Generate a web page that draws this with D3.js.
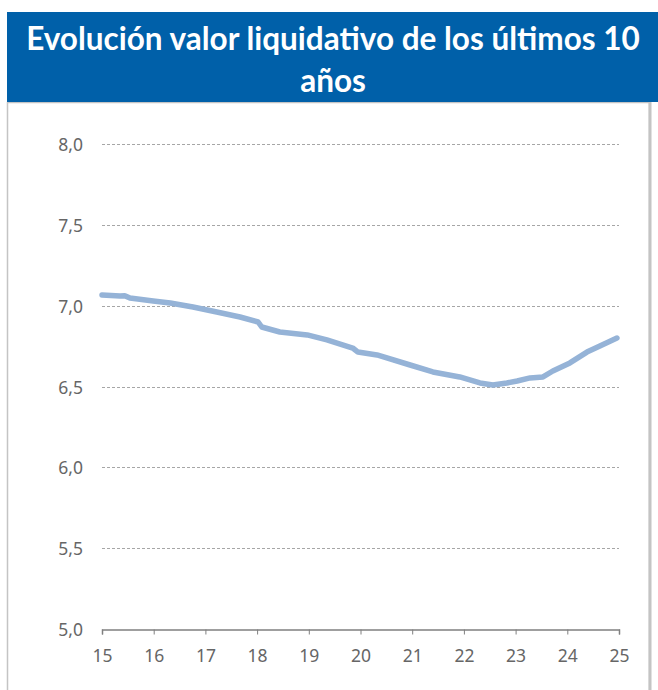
<!DOCTYPE html>
<html lang="es">
<head>
<meta charset="UTF-8">
<title>Evolución valor liquidativo</title>
<script src="https://d3js.org/d3.v7.min.js"></script>
<style>
  body { margin: 0; background: #fff; }
  svg { display: block; }
</style>
</head>
<body>
<svg id="chart" width="658" height="690"></svg>
<script>
  // year (two digits, fractional) and net asset value
  const years = [15.00, 15.35, 15.44, 15.54, 15.99, 16.32, 16.76, 17.22, 17.67, 18.02, 18.09, 18.44, 18.97,
                 19.35, 19.85, 19.95, 20.32, 20.96, 21.40, 21.92, 22.31, 22.56, 22.83, 23.03, 23.28, 23.53,
                 23.72, 24.05, 24.38, 24.63, 24.96];
  const values = [7.066, 7.060, 7.062, 7.047, 7.029, 7.017, 6.992, 6.961, 6.930, 6.899, 6.868, 6.837, 6.819,
                  6.788, 6.738, 6.713, 6.695, 6.633, 6.590, 6.559, 6.522, 6.509, 6.522, 6.534, 6.553, 6.559,
                  6.596, 6.646, 6.713, 6.751, 6.800];
  const xTicks = [15, 16, 17, 18, 19, 20, 21, 22, 23, 24, 25];
  const yTicks = [5.0, 5.5, 6.0, 6.5, 7.0, 7.5, 8.0];
  const titleLines = ["Evolución valor liquidativo de los últimos 10", "años"];

  const svg = d3.select("#chart");
  const labelFont = "'Noto Sans', sans-serif";

  // panel box
  svg.append("rect")
    .attr("x", 7.5).attr("y", 102.5)
    .attr("width", 642).attr("height", 600)
    .attr("fill", "#fff")
    .attr("stroke", "#c4c4c4")
    .attr("stroke-width", 1.5);
  svg.append("line")
    .attr("x1", 650).attr("x2", 650).attr("y1", 102).attr("y2", 690)
    .attr("stroke", "#c4c4c4").attr("stroke-width", 3);

  // title banner
  svg.append("rect")
    .attr("x", 7).attr("y", 12)
    .attr("width", 651).attr("height", 90)
    .attr("fill", "#0060a9");
  svg.selectAll(".title")
    .data(titleLines)
    .enter().append("text")
    .attr("class", "title")
    .attr("x", 333)
    .attr("y", (d, i) => 50 + i * 42)
    .attr("text-anchor", "middle")
    .attr("fill", "#fff")
    .style("font-family", "Lato, sans-serif")
    .style("font-weight", "bold")
    .style("font-size", "31.5px")
    .text(d => d);

  const x = d3.scaleLinear().domain([15, 25]).range([102, 619]);
  const y = d3.scaleLinear().domain([5, 8]).range([629, 144]);

  // gridlines
  svg.append("g")
    .selectAll("line")
    .data(yTicks.filter(d => d > 5))
    .enter().append("line")
    .attr("x1", x(15)).attr("x2", x(25))
    .attr("y1", d => Math.round(y(d)) + 0.5)
    .attr("y2", d => Math.round(y(d)) + 0.5)
    .attr("stroke", "#a6a6a6")
    .attr("stroke-dasharray", "3,2");

  // y labels
  svg.append("g")
    .selectAll("text")
    .data(yTicks)
    .enter().append("text")
    .attr("x", 83)
    .attr("y", d => y(d) + 7)
    .attr("text-anchor", "end")
    .attr("fill", "#666")
    .style("font-family", labelFont)
    .style("font-size", "17.5px")
    .text(d => d.toFixed(1).replace(".", ","));

  // x axis
  const xAxis = svg.append("g")
    .attr("transform", `translate(0,${Math.round(y(5)) + 0.5})`)
    .call(d3.axisBottom(x).tickValues(xTicks).tickSize(5).tickPadding(15).tickFormat(d3.format("d")));
  xAxis.select(".domain").attr("stroke", "#808080").attr("stroke-width", 1.5);
  xAxis.selectAll(".tick line").attr("stroke", "#808080");
  xAxis.selectAll("text")
    .attr("fill", "#666")
    .style("font-family", labelFont)
    .style("font-size", "17.5px");

  // series
  const pts = years.map((d, i) => [d, values[i]]);
  svg.append("path")
    .datum(pts)
    .attr("fill", "none")
    .attr("stroke", "#95b3d7")
    .attr("stroke-width", 5.5)
    .attr("stroke-linejoin", "round")
    .attr("stroke-linecap", "round")
    .attr("d", d3.line().x(d => x(d[0])).y(d => y(d[1])));
</script>
</body>
</html>
